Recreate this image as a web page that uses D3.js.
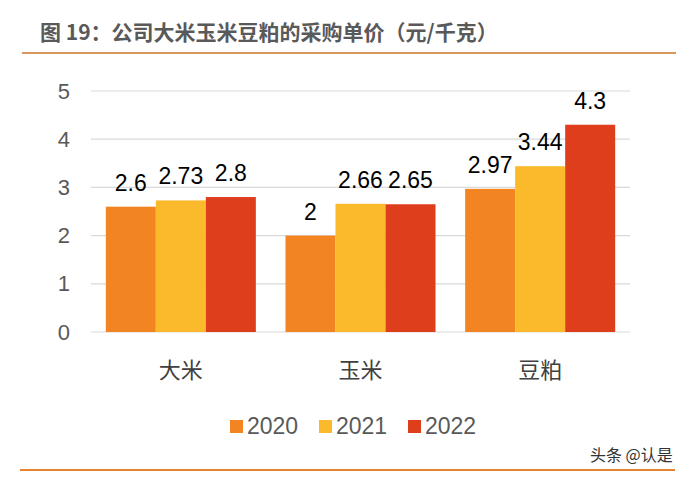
<!DOCTYPE html>
<html><head><meta charset="utf-8">
<script src="https://cdn.jsdelivr.net/npm/d3@7"></script>
<style>body{margin:0;background:#fff}svg{display:block}</style>
</head><body><svg id="c" width="700" height="477"></svg>
<script>
const categories = ["大米", "玉米", "豆粕"];
const years = ["2020", "2021", "2022"];
const v2020 = [2.6, 2.0, 2.97];
const v2021 = [2.73, 2.66, 3.44];
const v2022 = [2.8, 2.65, 4.3];
const valueLabels = [["2.6","2","2.97"],["2.73","2.66","3.44"],["2.8","2.65","4.3"]];
const yTicks = [0, 1, 2, 3, 4, 5];
const colors = ["#F28522", "#FBBA2C", "#DE3E1C"];
const title = "图 19：公司大米玉米豆粕的采购单价（元/千克）";

const series = [v2020, v2021, v2022];
const svg = d3.select("#c");
const font = "Arial, 'Liberation Sans', 'Noto Sans CJK SC', sans-serif";

// title
svg.append("text").attr("x", 40).attr("y", 40).attr("font-family", "'Noto Sans CJK SC', sans-serif")
  .attr("font-weight", "bold").attr("font-size", 21).attr("fill", "#595959").text(title);
svg.append("line").attr("x1", 22).attr("x2", 676).attr("y1", 53).attr("y2", 53)
  .attr("stroke", "#D9965E").attr("stroke-width", 2);

const x0 = d3.scaleBand().domain(categories).range([91, 630]).paddingInner(0.165).paddingOuter(0.0825);
const x1 = d3.scaleBand().domain(years).range([0, x0.bandwidth()]);
const y = d3.scaleLinear().domain([0, 5]).range([332, 91]);

// grid
svg.append("g").selectAll("line").data(yTicks).join("line")
  .attr("x1", 91).attr("x2", 630).attr("y1", d => y(d)).attr("y2", d => y(d))
  .attr("stroke", "#D9D9D9").attr("stroke-width", 1.2);

// y axis
const ya = svg.append("g").attr("transform", "translate(70,0)")
  .call(d3.axisLeft(y).tickValues(yTicks).tickFormat(d3.format("d")).tickSize(0).tickPadding(0));
ya.select(".domain").remove();
ya.selectAll("text").attr("font-family", font).attr("font-size", 22).attr("fill", "#595959");

// bars
years.forEach((yr, si) => {
  const g = svg.append("g");
  g.selectAll("rect").data(categories).join("rect")
    .attr("x", (c) => x0(c) + x1(yr)).attr("width", x1.bandwidth())
    .attr("y", (c, i) => y(series[si][i])).attr("height", (c, i) => y(0) - y(series[si][i]))
    .attr("fill", colors[si]);
  g.selectAll("text").data(categories).join("text")
    .attr("x", (c) => x0(c) + x1(yr) + x1.bandwidth() / 2)
    .attr("y", (c, i) => y(series[si][i]) - 16)
    .attr("text-anchor", "middle").attr("font-family", font).attr("font-size", 23).attr("fill", "#000")
    .text((c, i) => valueLabels[si][i]);
});

// x axis labels
const xa = svg.append("g").attr("transform", "translate(0,332)")
  .call(d3.axisBottom(x0).tickSize(0).tickPadding(0));
xa.select(".domain").remove();
xa.selectAll("text").attr("dy", 0).attr("y", 46).attr("font-family", "'Noto Sans CJK SC', sans-serif")
  .attr("font-size", 22).attr("fill", "#404040");

// legend
const legX = [230, 319, 408];
const lg = svg.append("g").selectAll("g").data(years).join("g")
  .attr("transform", (d, i) => `translate(${legX[i]},420)`);
lg.append("rect").attr("width", 13).attr("height", 13).attr("fill", (d, i) => colors[i]);
lg.append("text").attr("x", 17).attr("y", 14).attr("font-family", font).attr("font-size", 23)
  .attr("fill", "#595959").text(d => d);

// bottom line & watermark
svg.append("line").attr("x1", 20).attr("x2", 675).attr("y1", 470).attr("y2", 470)
  .attr("stroke", "#E8832E").attr("stroke-width", 2);
svg.append("text").attr("x", 590).attr("y", 461).attr("font-family", "'Noto Sans CJK SC', sans-serif")
  .attr("font-size", 16).attr("fill", "#333").text("头条 @认是");
</script></body></html>
